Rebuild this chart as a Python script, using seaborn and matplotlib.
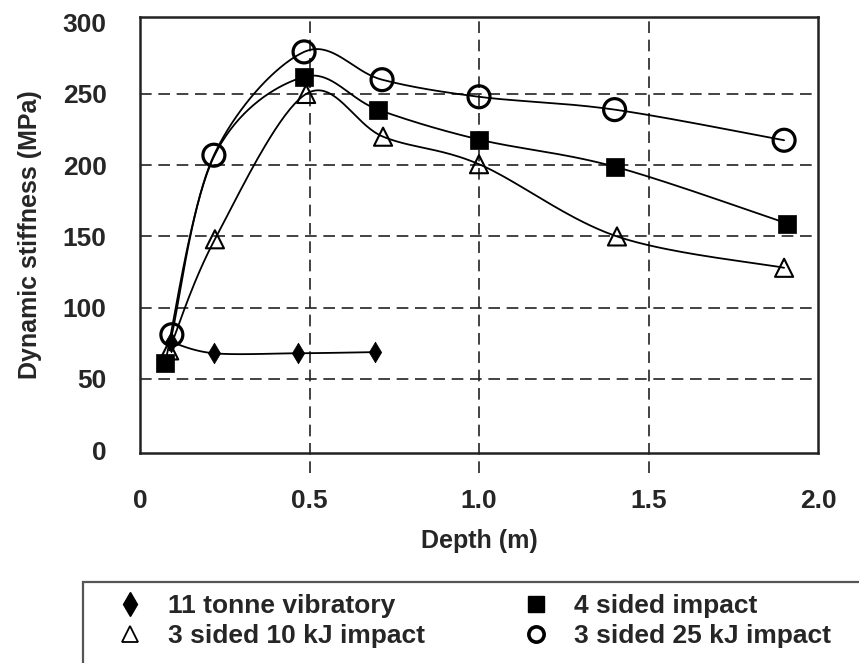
import numpy as np
import pandas as pd
import matplotlib
matplotlib.use("Agg")
import matplotlib.pyplot as plt
from matplotlib.lines import Line2D
from matplotlib.patches import Rectangle
import seaborn as sns

# Depth (m) and dynamic stiffness (MPa) for each compaction method
vib_depth = [0.09, 0.218, 0.466, 0.693]
vib_stiff = [76, 68, 68, 68.8]

four_depth = [0.074, 0.218, 0.484, 0.702, 1.0, 1.40, 1.91]
four_stiff = [61, 206, 262, 239, 218, 199, 159]
# the 0.22 m reading sits under the 25 kJ circle and carries no square symbol
four_marked = [True, False, True, True, True, True, True]

ten_depth = [0.086, 0.221, 0.49, 0.717, 1.0, 1.407, 1.90]
ten_stiff = [70, 148, 250, 220, 200.7, 150, 128]

tw5_depth = [0.094, 0.218, 0.484, 0.714, 1.0, 1.40, 1.90]
tw5_stiff = [81, 207, 279.5, 260, 248, 239, 217.5]

series_names = ["11 tonne vibratory", "4 sided impact",
                "3 sided 10 kJ impact", "3 sided 25 kJ impact"]

x_ticks = [0, 0.5, 1.0, 1.5, 2.0]
x_tick_labels = ["0", "0.5", "1.0", "1.5", "2.0"]
y_ticks = [0, 50, 100, 150, 200, 250, 300]


def smooth_curve(xs, ys, steps=40):
    """Smoothed connector through the points (Catmull-Rom style Bezier)."""
    p = np.column_stack([xs, ys]).astype(float)
    pts = np.vstack([p[0], p, p[-1]])
    out = []
    t = np.linspace(0, 1, steps)[:, None]
    for i in range(1, len(pts) - 2):
        p0, p1, p2, p3 = pts[i - 1], pts[i], pts[i + 1], pts[i + 2]
        c1 = p1 + (p2 - p0) / 6.0
        c2 = p2 - (p3 - p1) / 6.0
        seg = ((1 - t) ** 3) * p1 + 3 * ((1 - t) ** 2) * t * c1 \
            + 3 * (1 - t) * t ** 2 * c2 + t ** 3 * p2
        out.append(seg if i == 1 else seg[1:])
    c = np.vstack(out)
    return c[:, 0], c[:, 1]


sns.set_theme(style="white")
plt.rcParams["font.family"] = ["Liberation Sans", "DejaVu Sans"]
plt.rcParams["font.weight"] = "bold"

fig = plt.figure(figsize=(8.59, 6.63), dpi=100)
ax = fig.add_axes([140 / 859, 1 - 453 / 663, 678 / 859, 436 / 663])

ax.set_xlim(0, 2.0)
ax.set_ylim(-2, 304)

grid_kw = dict(color="#222222", lw=1.2, linestyles=(0, (7, 4)), zorder=1)
ax.hlines([50, 100, 150, 200, 250], 0, 2.0, **grid_kw)
ax.vlines([0.5, 1.0, 1.5], -16, 304, clip_on=False, **grid_kw)

series = [
    (vib_depth, vib_stiff, [True] * len(vib_depth),
     dict(marker="d", s=110, color="black", edgecolor="black", linewidth=0.5)),
    (four_depth, four_stiff, four_marked,
     dict(marker="s", s=150, color="black", edgecolor="black", linewidth=0.5)),
    (ten_depth, ten_stiff, [True] * len(ten_depth),
     dict(marker="^", s=170, facecolor="none", edgecolor="black", linewidth=1.5)),
    (tw5_depth, tw5_stiff, [True] * len(tw5_depth),
     dict(marker="o", s=250, facecolor="none", edgecolor="black", linewidth=2.3)),
]

for (xs, ys, marked, mk), name in zip(series, series_names):
    cx, cy = smooth_curve(xs, ys)
    curve = pd.DataFrame({"Depth": cx, "Stiffness": cy})
    sns.lineplot(data=curve, x="Depth", y="Stiffness", sort=False, estimator=None,
                 color="black", lw=1.3, ax=ax, zorder=3)
    pts = pd.DataFrame({"Depth": xs, "Stiffness": ys, "marked": marked})
    pts = pts[pts["marked"]]
    sns.scatterplot(data=pts, x="Depth", y="Stiffness", ax=ax, zorder=4, **mk)

for side in ["left", "right", "top", "bottom"]:
    ax.spines[side].set_visible(True)
    ax.spines[side].set_color("#222222")
    ax.spines[side].set_linewidth(1.8)

ax.set_xticks(x_ticks)
ax.set_xticklabels(x_tick_labels)
ax.set_yticks(y_ticks)
ax.tick_params(axis="both", length=0, labelsize=19)
ax.tick_params(axis="x", pad=26)
ax.tick_params(axis="y", pad=24)
for lab in ax.get_xticklabels() + ax.get_yticklabels():
    lab.set_fontweight("bold")

ax.set_xlabel("Depth (m)", fontsize=18, fontweight="bold")
ax.set_ylabel("Dynamic stiffness (MPa)", fontsize=18, fontweight="bold")
ax.xaxis.set_label_coords(0.5, -0.175)
ax.yaxis.set_label_coords(-0.145, 0.5)

# Legend box below the plot, running off the bottom-right of the figure
fig.add_artist(Rectangle((83 / 859, -0.2), 1.0, 0.2 + (663 - 582) / 663,
                         transform=fig.transFigure, fill=False,
                         edgecolor="#555555", lw=1.6))

handles = [
    Line2D([], [], ls="none", marker="d", ms=12, color="black"),
    Line2D([], [], ls="none", marker="^", ms=12, mfc="none", mec="black", mew=1.3),
    Line2D([], [], ls="none", marker="s", ms=11, color="black"),
    Line2D([], [], ls="none", marker="o", ms=11, mfc="none", mec="black", mew=2.6),
]
labels = [series_names[0], series_names[2], series_names[1], series_names[3]]
fig.legend(handles, labels, loc="upper left", bbox_to_anchor=(117 / 859, 1 - 594 / 663),
           ncol=2, frameon=False, prop={"size": 19, "weight": "bold"},
           handlelength=1.0, handletextpad=0.94, columnspacing=3.7,
           labelspacing=0.22, borderpad=0, borderaxespad=0)

fig.savefig("out.png", dpi=100)
